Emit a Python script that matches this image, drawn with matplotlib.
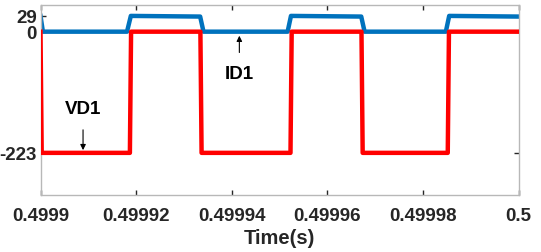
import matplotlib
matplotlib.use("Agg")
import matplotlib.pyplot as plt
import numpy as np

T0 = 0.4999
# times as microsecond offsets from 0.4999 s
vd1_t_us = [0.0, 0.25, 18.7, 18.95, 33.45, 33.7, 52.3, 52.55, 67.15, 67.4, 85.2, 85.45, 100.0]
vd1_v = [0, -223, -223, 0, 0, -223, -223, 0, 0, -223, -223, 0, 0]

id1_t_us = [0.0, 0.5, 18.1, 18.9, 33.4, 34.1, 51.7, 52.4, 67.1, 67.8, 84.8, 85.5, 100.0]
id1_v = [29, 0, 0, 29, 27.8, 0, 0, 29, 27.8, 0, 0, 29, 27.8]

xticks = [0.4999, 0.49992, 0.49994, 0.49996, 0.49998, 0.5]
xtick_labels = ["0.4999", "0.49992", "0.49994", "0.49996", "0.49998", "0.5"]
yticks = [-223, 0, 29]
ytick_labels = ["-223", "0", "29"]

plt.rcParams['font.family'] = ['Liberation Sans', 'DejaVu Sans']
plt.rcParams['font.weight'] = 'bold'

fig = plt.figure(figsize=(5.41, 2.53), dpi=100)
ax = fig.add_axes([40.5/541, 1 - 195.7/253, (518.5 - 40.5)/541, (195.7 - 5.5)/253])

t_v = T0 + np.array(vd1_t_us) * 1e-6
t_i = T0 + np.array(id1_t_us) * 1e-6
ax.plot(t_i, id1_v, color='#0072BD', lw=3.2, solid_joinstyle='round', zorder=2)
ax.plot(t_v, vd1_v, color='#FF0000', lw=3.2, solid_joinstyle='round', zorder=3)

ax.set_xlim(0.4999, 0.5)
ax.set_ylim(-300, 50)
ax.set_xticks(xticks)
ax.set_xticklabels(xtick_labels)
ax.set_yticks(yticks)
ax.set_yticklabels(ytick_labels)
ax.tick_params(direction='in', length=3.5, width=1, color='#262626', labelcolor='#262626',
               labelsize=13.5, top=True, right=True)
ax.tick_params(axis='x', pad=9)
ax.tick_params(axis='y', pad=2.5)
for lab in ax.get_xticklabels() + ax.get_yticklabels():
    lab.set_fontweight('bold')
for s in ax.spines.values():
    s.set_color('#b8b8b8')
    s.set_linewidth(1)

ax.set_xlabel('Time(s)', fontsize=14.5, fontweight='bold', color='#262626', labelpad=3)

ax.annotate('ID1', xy=(T0 + 41.6e-6, -7.5), xytext=(T0 + 41.6e-6, -77),
            ha='center', va='center', fontsize=13.5, fontweight='bold', color='black',
            arrowprops=dict(arrowstyle='-|>', color='black', lw=0.8, mutation_scale=8,
                            shrinkA=7, shrinkB=0))
ax.annotate('VD1', xy=(T0 + 8.9e-6, -218), xytext=(T0 + 8.9e-6, -142),
            ha='center', va='center', fontsize=13.5, fontweight='bold', color='black',
            arrowprops=dict(arrowstyle='-|>', color='black', lw=0.8, mutation_scale=8,
                            shrinkA=7, shrinkB=0))

fig.savefig('out.png', dpi=100)
